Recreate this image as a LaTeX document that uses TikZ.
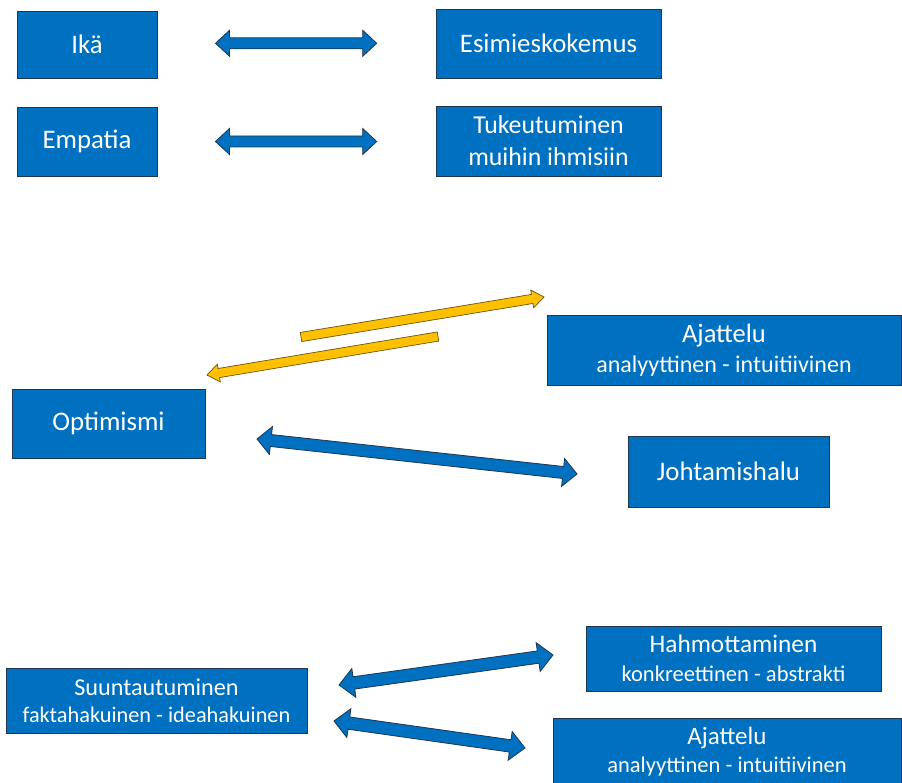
\documentclass[tikz,border=0pt]{standalone}
\usepackage{fontspec}
\setmainfont{Carlito}
\usetikzlibrary{calc}
\definecolor{boxblue}{HTML}{0070C0}
\definecolor{boxline}{HTML}{1F3550}
\definecolor{arrowyellow}{HTML}{FFC000}
\definecolor{yline}{HTML}{6B5310}
\newcommand{\dblblock}[6]{%
  \coordinate (tmpA) at ($(#2)!#6!(#3)$);
  \coordinate (tmpB) at ($(#3)!#6!(#2)$);
  \path[#1] (#2) -- ($(tmpA)!#5!90:(#3)$) -- ($(tmpA)!#4!90:(#3)$)
    -- ($(tmpB)!#4!-90:(#2)$) -- ($(tmpB)!#5!-90:(#2)$) -- (#3)
    -- ($(tmpB)!#5!90:(#2)$) -- ($(tmpB)!#4!90:(#2)$)
    -- ($(tmpA)!#4!-90:(#3)$) -- ($(tmpA)!#5!-90:(#3)$) -- cycle;
}
\newcommand{\sglblock}[6]{%
  \coordinate (tmpB) at ($(#3)!#6!(#2)$);
  \path[#1] ($(#2)!#4!90:(#3)$) -- ($(tmpB)!#4!-90:(#2)$) -- ($(tmpB)!#5!-90:(#2)$)
    -- (#3) -- ($(tmpB)!#5!90:(#2)$) -- ($(tmpB)!#4!90:(#2)$) -- ($(#2)!#4!-90:(#3)$) -- cycle;
}
\tikzset{
  box/.style={draw=boxline, line width=0.8pt, fill=boxblue, text=white, inner sep=0pt,
    align=center, font=\fontsize{26.8}{31}\selectfont},
  bluearrow/.style={draw=boxline, line width=0.8pt, fill=boxblue, line join=miter},
  yellowarrow/.style={draw=yline, line width=0.7pt, fill=arrowyellow, line join=miter},
}
\begin{document}
\begin{tikzpicture}[x=1pt,y=-1pt]
\useasboundingbox (0,0) rectangle (902,783);
\fill[white] (0,0) rectangle (902,783);

% boxes
\node[box, minimum width=140pt, minimum height=67pt] (ika) at (87,44.5) {Ikä};
\node[box, minimum width=225pt, minimum height=69pt] (esim) at (548.5,43.5) {Esimieskokemus};
\node[box, minimum width=140pt, minimum height=69pt] (emp) at (87,141.5) {Empatia};
\node[box, minimum width=225pt, minimum height=70pt, font=\fontsize{25.8}{32}\selectfont] (tuk) at (548.5,141) {Tukeutuminen\\muihin ihmisiin};
\node[box, minimum width=354pt, minimum height=70pt, font=\fontsize{26.5}{30}\selectfont] (ajat1) at (724,350) {Ajattelu\\{\fontsize{24}{30}\selectfont analyyttinen - intuitiivinen}};
\node[box, minimum width=193pt, minimum height=69pt] (opt) at (108.5,423.5) {Optimismi};
\node[box, minimum width=201pt, minimum height=71pt] (joht) at (728.5,471.5) {Johtamishalu};
\node[box, minimum width=295pt, minimum height=65pt, font=\fontsize{25.3}{29}\selectfont] (hahm) at (733.5,658.5) {Hahmottaminen\\{\fontsize{22.5}{29}\selectfont konkreettinen - abstrakti}};
\node[box, minimum width=301pt, minimum height=65pt, font=\fontsize{24.2}{27}\selectfont] (suun) at (156.5,700.5) {Suuntautuminen\\{\fontsize{22.3}{27}\selectfont faktahakuinen - ideahakuinen}};
\node[box, minimum width=348pt, minimum height=68pt, font=\fontsize{25}{28}\selectfont] (ajat2) at (727,752) {Ajattelu\\{\fontsize{22.5}{28}\selectfont analyyttinen - intuitiivinen}};

% arrow end points
\coordinate (a1l) at (215.5,43.3);
\coordinate (a1r) at (376.7,43.3);
\coordinate (a2l) at (215.5,141.5);
\coordinate (a2r) at (376.7,141.5);
\coordinate (yut) at (301,337);
\coordinate (yuh) at (544,297);
\coordinate (ydt) at (438,336.5);
\coordinate (ydh) at (207,375);
\coordinate (ojl) at (257,439);
\coordinate (ojr) at (577,474);
\coordinate (shl) at (339,685);
\coordinate (shr) at (553,655);
\coordinate (sal) at (334,721);
\coordinate (sar) at (525,748);

% blue double arrows
\dblblock{bluearrow}{a1l}{a1r}{5.5pt}{13pt}{14pt}
\dblblock{bluearrow}{a2l}{a2r}{5.5pt}{13pt}{14pt}
\dblblock{bluearrow}{ojl}{ojr}{6pt}{14pt}{14pt}
\dblblock{bluearrow}{shl}{shr}{6.2pt}{14.5pt}{15pt}
\dblblock{bluearrow}{sal}{sar}{6.2pt}{14.5pt}{15pt}

% yellow single arrows
\sglblock{yellowarrow}{yut}{yuh}{4.6pt}{9pt}{12pt}
\sglblock{yellowarrow}{ydt}{ydh}{4.6pt}{9pt}{12pt}
\end{tikzpicture}
\end{document}
